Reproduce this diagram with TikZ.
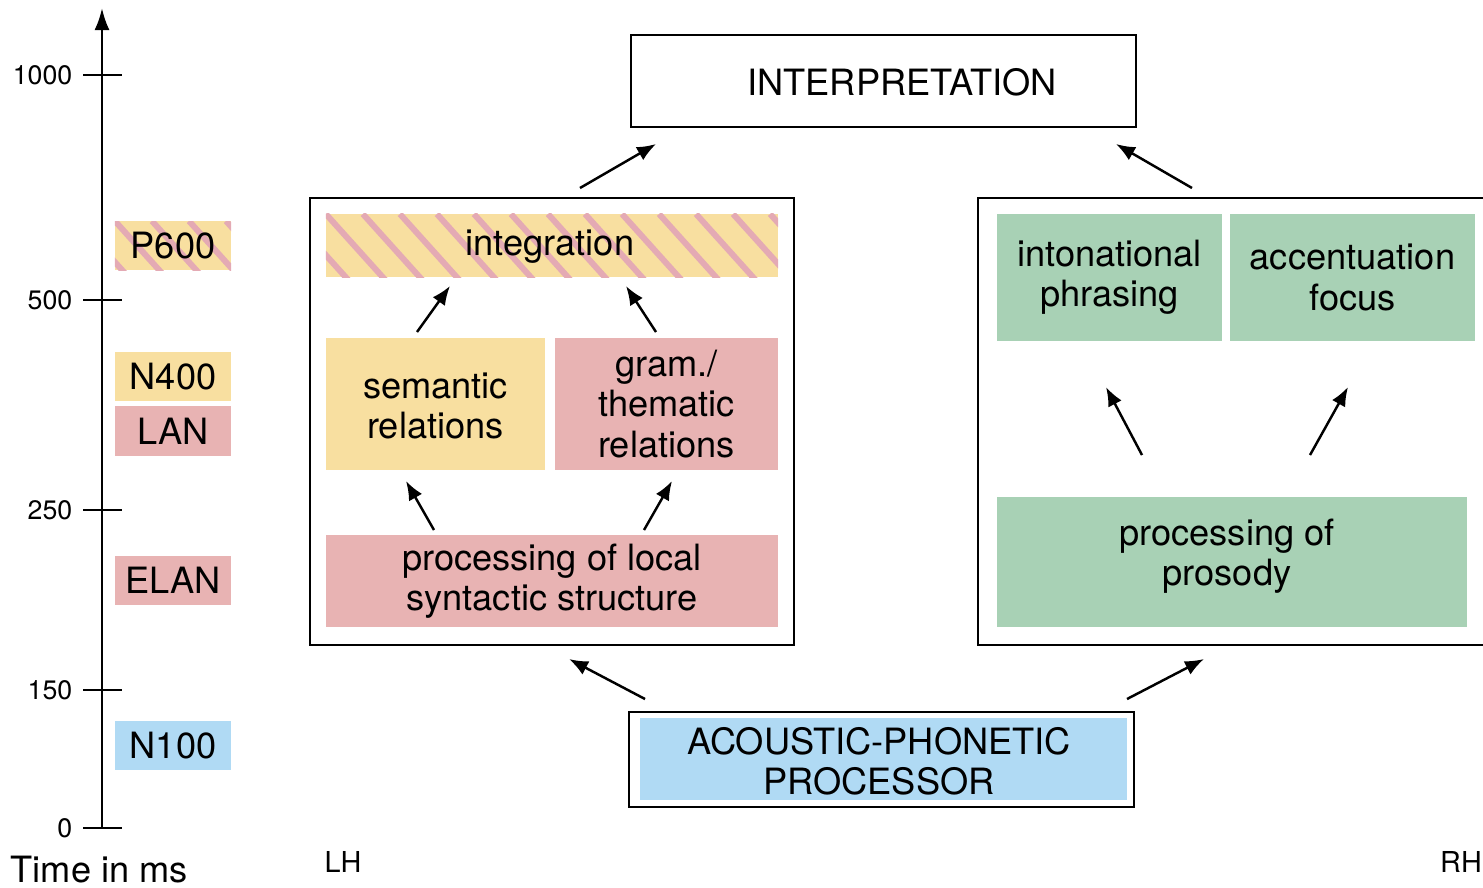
\documentclass[tikz,border=0pt]{standalone}
\usepackage{fontspec}
\setmainfont{TeX Gyre Heros}
\usetikzlibrary{arrows.meta}
\definecolor{cyel}{HTML}{F8DFA0}
\definecolor{cpink}{HTML}{E8B3B3}
\definecolor{cgreen}{HTML}{A8D1B5}
\definecolor{cblue}{HTML}{B0DAF4}
\definecolor{chatch}{HTML}{E4AAB4}
\tikzset{
  txt/.style={font=\fontsize{10.3}{11.5}\selectfont},
  ticklbl/.style={font=\fontsize{7.6}{9}\selectfont, anchor=east, inner sep=0pt},
  hemilbl/.style={font=\fontsize{8.2}{9}\selectfont, inner sep=0pt},
  filled/.style={draw=none, inner sep=0pt, align=center, txt},
  framebox/.style={draw=black, line width=0.6pt, fill=white, inner sep=0pt},
  yelbox/.style={filled, fill=cyel},
  pinkbox/.style={filled, fill=cpink},
  greenbox/.style={filled, fill=cgreen},
  bluebox/.style={filled, fill=cblue},
  hatchbox/.style={filled, fill=cyel, path picture={
      \foreach \k in {-3,...,15}{
        \draw[chatch, line width=1.7pt]
          ([xshift=\k*0.37cm]path picture bounding box.north west) -- ++(0.72cm,-0.8cm);
      }}},
  conn/.style={line width=0.7pt, -{Latex[length=1.9mm,width=1.5mm]}},
  axisline/.style={line width=0.75pt},
}
\begin{document}
\begin{tikzpicture}[x=0.01cm,y=-0.01cm]
\useasboundingbox (0,0) rectangle (1483,887);

% time axis
\coordinate (ax0) at (102,828);
\coordinate (axtop) at (102,8);
\draw[axisline, -{Latex[length=2.2mm,width=1.5mm]}] (ax0) -- (axtop);
\foreach \yy/\lab in {75/1000,300/500,510/250,690/150,828/0}{
  \draw[axisline] (83,\yy) -- (122,\yy);
  \node[ticklbl] (tick\lab) at (73,\yy) {\lab};
}
\node[txt, anchor=west, inner sep=0pt] (timelbl) at (10,870) {Time in ms};

% ERP components
\node[hatchbox, minimum width=1.16cm, minimum height=0.49cm] (p600) at (173,245.5) {P600};
\node[yelbox, minimum width=1.16cm, minimum height=0.49cm] (n400) at (173,376.5) {N400};
\node[pinkbox, minimum width=1.16cm, minimum height=0.50cm] (lan) at (173,431) {LAN};
\node[pinkbox, minimum width=1.16cm, minimum height=0.49cm] (elan) at (173,580.5) {ELAN};
\node[bluebox, minimum width=1.16cm, minimum height=0.49cm] (n100) at (173,745.5) {N100};

% interpretation
\node[framebox, minimum width=5.05cm, minimum height=0.92cm] (interp) at (883.5,81) {};
\node[txt, inner sep=0pt] (interptxt) at (902,82) {INTERPRETATION};

% LH frame
\node[framebox, minimum width=4.84cm, minimum height=4.47cm] (lh) at (552,421.5) {};
\node[hatchbox, minimum width=4.52cm, minimum height=0.63cm] (integ) at (552,245.5) {};
\node[txt, inner sep=0pt] (integtxt) at (550,247) {integration};
\node[yelbox, minimum width=2.19cm, minimum height=1.32cm] (sem) at (435.5,404) {};
\node[txt, align=center, inner sep=0pt] (semtxt) at (435.5,406) {semantic\\relations};
\node[pinkbox, minimum width=2.23cm, minimum height=1.32cm] (gram) at (666.5,404) {gram./\\thematic\\relations};
\node[pinkbox, minimum width=4.52cm, minimum height=0.92cm] (local) at (552,581) {processing of local\\syntactic structure};

% RH frame
\node[framebox, minimum width=5.08cm, minimum height=4.47cm] (rh) at (1232,421.5) {};
\node[greenbox, minimum width=2.25cm, minimum height=1.27cm] (inton) at (1109.5,277.5) {intonational\\phrasing};
\node[greenbox, minimum width=2.45cm, minimum height=1.27cm] (accent) at (1352.5,277.5) {accentuation\\focus};
\node[greenbox, minimum width=4.70cm, minimum height=1.30cm] (prosody) at (1232,562) {};
\node[txt, align=center, inner sep=0pt] (prosodytxt) at (1227,556) {processing of\\prosody};

% acoustic-phonetic processor
\node[framebox, minimum width=5.05cm, minimum height=0.95cm] (acframe) at (881.5,759.5) {};
\node[bluebox, minimum width=4.87cm, minimum height=0.82cm] (acoustic) at (883.5,759) {};
\node[txt, align=center, inner sep=0pt] (acoustictxt) at (879,761) {ACOUSTIC-PHONETIC\\PROCESSOR};

% hemisphere labels
\node[hemilbl] (lhlbl) at (343,862) {LH};
\node[hemilbl] (rhlbl) at (1461,862) {RH};

% arrow end points
\coordinate (a1s) at (580,188);   \coordinate (a1e) at (656,144);
\coordinate (a2s) at (1192,188);  \coordinate (a2e) at (1116,144);
\coordinate (a3s) at (417,332);   \coordinate (a3e) at (450,286);
\coordinate (a4s) at (656,332);   \coordinate (a4e) at (626,286);
\coordinate (a5s) at (434,530);   \coordinate (a5e) at (406,481);
\coordinate (a6s) at (644,530);   \coordinate (a6e) at (672,481);
\coordinate (a7s) at (1142,455);  \coordinate (a7e) at (1106,387);
\coordinate (a8s) at (1310,455);  \coordinate (a8e) at (1348,387);
\coordinate (a9s) at (645,699);   \coordinate (a9e) at (569,659);
\coordinate (a10s) at (1127,699); \coordinate (a10e) at (1204,659);

\foreach \i in {1,...,10}{
  \draw[conn] (a\i s) -- (a\i e);
}
\end{tikzpicture}
\end{document}
